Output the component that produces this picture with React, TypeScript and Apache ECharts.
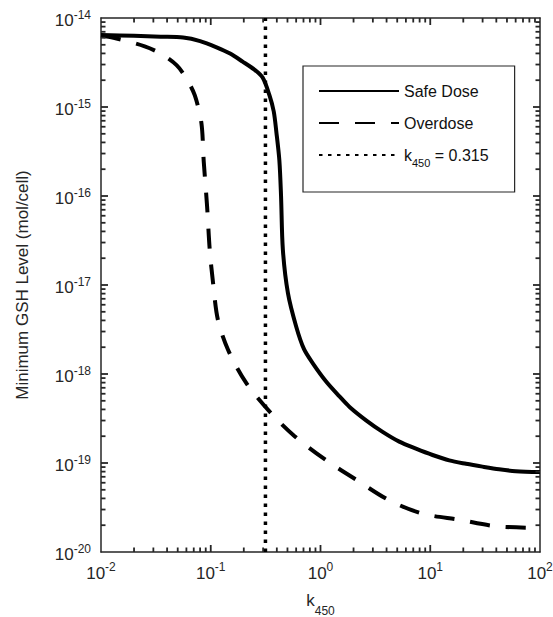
import React, { useEffect, useRef } from "react";
import * as echarts from "echarts";

// k450 values and minimum GSH levels (mol/cell)
const safeX = [0.01, 0.02, 0.035, 0.056, 0.08, 0.113, 0.15, 0.195, 0.25, 0.297, 0.343, 0.375, 0.396, 0.422, 0.437, 0.454, 0.505, 0.601, 0.708, 0.851, 1.12, 1.49, 1.84, 2.62, 3.68, 5.22, 7.41, 10.5, 14.9, 21.2, 29.9, 42.4, 60.1, 100];
const safeY = [6.46e-15, 6.31e-15, 6.17e-15, 6.03e-15, 5.5e-15, 4.68e-15, 3.98e-15, 3.24e-15, 2.63e-15, 2.14e-15, 1.35e-15, 8.9e-16, 5.25e-16, 2.5e-16, 1.0e-16, 2.5e-17, 8.1e-18, 3.4e-18, 1.9e-18, 1.32e-18, 8.3e-19, 5.6e-19, 4.27e-19, 3.0e-19, 2.24e-19, 1.74e-19, 1.45e-19, 1.23e-19, 1.07e-19, 9.8e-20, 9.1e-20, 8.5e-20, 8.1e-20, 7.9e-20];

const overX = [0.01, 0.013, 0.025, 0.035, 0.0488, 0.06, 0.0716, 0.0822, 0.0863, 0.0925, 0.098, 0.105, 0.116, 0.144, 0.211, 0.356, 0.581, 1.13, 2.11, 4.24, 8.51, 18.4, 39.5, 100];
const overY = [6.3e-15, 6.0e-15, 4.8e-15, 3.98e-15, 2.95e-15, 2.09e-15, 1.35e-15, 6.6e-16, 2.45e-16, 7.8e-17, 2.45e-17, 1.05e-17, 4.1e-18, 1.86e-18, 7.9e-19, 3.6e-19, 2.0e-19, 1.07e-19, 6.5e-20, 3.8e-20, 2.7e-20, 2.3e-20, 1.95e-20, 1.86e-20];

const k450Value = 0.315;
const xRange = [0.01, 100];
const yRange = [1e-20, 1e-14];
const minorMultipliers = [2, 3, 4, 5, 6, 7, 8, 9];
const xDecades = [0.01, 0.1, 1, 10, 100];
const yDecades = [1e-20, 1e-19, 1e-18, 1e-17, 1e-16, 1e-15, 1e-14];

const seriesNames = ["Safe Dose", "Overdose", "k450"];

const AXIS = "#262626";
const FONT = "'Liberation Sans', Arial, Helvetica, sans-serif";
const W = 553;
const H = 617;
const GRID = { left: 101, right: 13, top: 18, bottom: 65 };

export default function App() {
  const ref = useRef<HTMLDivElement>(null);

  useEffect(() => {
    if (!ref.current) return;
    const chart = echarts.init(ref.current, undefined, { renderer: "svg" });

    const pow10 = (v: number) => `{b|10}{s|${Math.round(Math.log10(v))}}`;
    const labelRich = {
      b: { fontSize: 17, lineHeight: 24, color: AXIS, fontFamily: FONT },
      s: { fontSize: 12, lineHeight: 12, verticalAlign: "top", color: AXIS, fontFamily: FONT },
    };

    const axisCommon = {
      type: "log" as const,
      logBase: 10,
      axisLine: { show: true, lineStyle: { color: AXIS, width: 1.5 } },
      axisTick: { show: false },
      splitLine: { show: false },
      minorTick: { show: false },
    };

    // tick rows: [x, y, length, side] ; side 0 = along x axes, 1 = along y axes
    // (positions kept strictly inside the axis ranges)
    const tickRows: number[][] = [];
    xDecades.forEach((d) => {
      if (d > xRange[0] && d < xRange[1]) tickRows.push([d, 1e-17, 7, 0]);
      if (d < xRange[1]) minorMultipliers.forEach((m) => tickRows.push([d * m, 1e-17, 4.5, 0]));
    });
    yDecades.forEach((d) => {
      if (d > yRange[0] && d < yRange[1]) tickRows.push([1, d, 7, 1]);
      if (d < yRange[1]) minorMultipliers.forEach((m) => tickRows.push([1, d * m, 4.5, 1]));
    });

    const tw = 1.8;
    const renderTick = (params: any, api: any) => {
      const cs = params.coordSys || {};
      const gx = Number.isFinite(cs.x) ? cs.x : GRID.left;
      const gy = Number.isFinite(cs.y) ? cs.y : GRID.top;
      const gw = Number.isFinite(cs.width) ? cs.width : W - GRID.left - GRID.right;
      const gh = Number.isFinite(cs.height) ? cs.height : H - GRID.top - GRID.bottom;
      const xv = api.value(0);
      const yv = api.value(1);
      const len = api.value(2);
      const side = api.value(3);
      const pt = api.coord([xv, yv]);
      if (!pt) return null;
      const style = { fill: AXIS };
      if (side === 0) {
        const px = pt[0];
        if (!Number.isFinite(px)) return null;
        return {
          type: "group",
          children: [
            { type: "rect", shape: { x: px - tw / 2, y: gy + gh - len, width: tw, height: len }, style },
            { type: "rect", shape: { x: px - tw / 2, y: gy, width: tw, height: len }, style },
          ],
        };
      }
      const py = pt[1];
      if (!Number.isFinite(py)) return null;
      return {
        type: "group",
        children: [
          { type: "rect", shape: { x: gx, y: py - tw / 2, width: len, height: tw }, style },
          { type: "rect", shape: { x: gx + gw - len, y: py - tw / 2, width: len, height: tw }, style },
        ],
      };
    };

    chart.setOption({
      animation: false,
      backgroundColor: "#ffffff",
      textStyle: { fontFamily: FONT },
      grid: { ...GRID, containLabel: false, outerBoundsMode: "none" },
      xAxis: [
        {
          ...axisCommon,
          position: "bottom",
          min: xRange[0],
          max: xRange[1],
          splitNumber: 4,
          name: "{k|k}{sub|450}",
          nameLocation: "middle",
          nameGap: 31,
          nameTextStyle: {
            rich: {
              k: { fontSize: 17, lineHeight: 34, color: AXIS, fontFamily: FONT },
              sub: { fontSize: 12, lineHeight: 12, verticalAlign: "bottom", color: AXIS, fontFamily: FONT },
            },
          },
          axisLabel: { show: true, margin: 9, formatter: pow10, rich: labelRich, showMinLabel: true, showMaxLabel: true, hideOverlap: false },
        },
        {
          ...axisCommon,
          position: "top",
          min: xRange[0],
          max: xRange[1],
          splitNumber: 4,
          axisLabel: { show: false },
        },
      ],
      yAxis: [
        {
          ...axisCommon,
          position: "left",
          min: yRange[0],
          max: yRange[1],
          splitNumber: 6,
          name: "Minimum GSH Level (mol/cell)",
          nameLocation: "middle",
          nameGap: 70,
          nameTextStyle: { fontSize: 17, color: AXIS, fontFamily: FONT },
          axisLabel: { show: true, margin: 10, formatter: pow10, rich: labelRich, padding: [5, 0, 0, 0], showMinLabel: true, showMaxLabel: true, hideOverlap: false },
        },
        {
          ...axisCommon,
          position: "right",
          min: yRange[0],
          max: yRange[1],
          splitNumber: 6,
          axisLabel: { show: false },
        },
      ],
      legend: {
        data: seriesNames,
        orient: "vertical",
        left: 303,
        top: 66,
        padding: [17, 26, 24, 15],
        itemWidth: 80,
        itemHeight: 14,
        itemGap: 16,
        borderColor: AXIS,
        borderWidth: 1.2,
        backgroundColor: "#ffffff",
        selectedMode: false,
        itemStyle: { opacity: 0 },
        formatter: (name: string) => (name === "k450" ? `{t|k}{sub|450}{t| = 0.315}` : name),
        textStyle: {
          fontSize: 16,
          color: "#111",
          fontFamily: FONT,
          rich: {
            t: { fontSize: 16, lineHeight: 26, color: "#111", fontFamily: FONT },
            sub: { fontSize: 11, lineHeight: 11, verticalAlign: "bottom", color: "#111", fontFamily: FONT },
          },
        },
      },
      series: [
        {
          name: "k450",
          type: "line",
          data: [
            [k450Value, yRange[0]],
            [k450Value, yRange[1]],
          ],
          symbol: "none",
          color: "#000",
          lineStyle: { color: "#000", width: 3.5, type: [3.5, 5.5], cap: "butt" },
          z: 2,
        },
        {
          name: "Safe Dose",
          type: "line",
          data: safeX.map((x, i) => [x, safeY[i]]),
          symbol: "none",
          smooth: 0.3,
          color: "#000",
          lineStyle: { color: "#000", width: 4, type: "solid" },
          z: 3,
        },
        {
          name: "Overdose",
          type: "line",
          data: overX.map((x, i) => [x, overY[i]]),
          symbol: "none",
          smooth: 0.3,
          color: "#000",
          lineStyle: { color: "#000", width: 4, type: [20, 16], cap: "butt" },
          z: 3,
        },
        {
          name: "ticks",
          type: "custom",
          coordinateSystem: "cartesian2d",
          xAxisIndex: 0,
          yAxisIndex: 0,
          clip: false,
          silent: true,
          dimensions: ["x", "y", "len", "side"],
          encode: { x: 0, y: 1 },
          data: tickRows,
          renderItem: renderTick,
          z: 10,
        },
      ],
    });

    return () => chart.dispose();
  }, []);

  return (
    <div
      ref={ref}
      style={{ position: "fixed", left: 0, top: 0, width: W, height: H, background: "#fff" }}
    />
  );
}
